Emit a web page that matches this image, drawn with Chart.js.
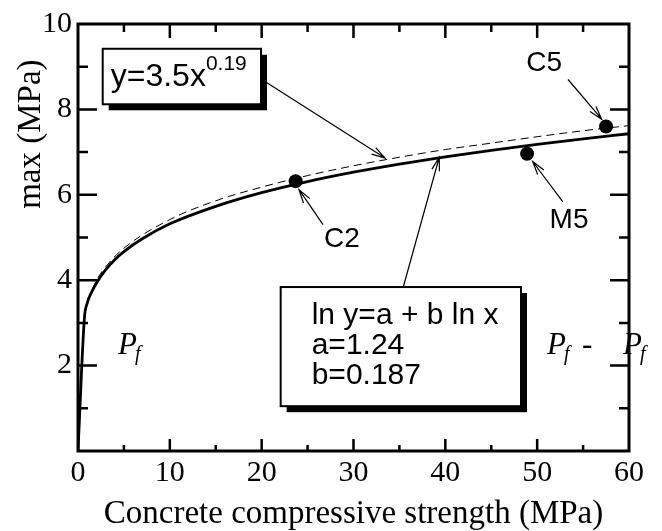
<!DOCTYPE html>
<html>
<head>
<meta charset="utf-8">
<script src="https://cdn.jsdelivr.net/npm/chart.js@4/dist/chart.umd.min.js"></script>
<style>
    html,body{margin:0;padding:0;background:#fff;}
    canvas{display:block;}
</style>
</head>
<body>
<canvas id="strengthChart" width="662" height="531"></canvas>
<script>

/* =====================================
   DATA
===================================== */

// ln y = a + b ln x regression (solid)
const lnFitX = [0, 0.7, 1, 1.5, 2, 3, 4, 5, 7, 10, 15, 20, 25, 30, 35, 40, 45, 50, 55, 60];
const lnFitY = [0, 3.12, 3.46, 3.73, 3.93, 4.24, 4.48, 4.67, 4.97, 5.32, 5.73, 6.05, 6.31, 6.53, 6.72, 6.89, 7.04, 7.18, 7.31, 7.43];

// y = 3.5x^0.19 (dashed)
const powFitX = [1, 2, 3, 5, 10, 15, 20, 25, 30, 35, 40, 45, 50, 55, 60];
const powFitY = [3.5, 3.99, 4.31, 4.75, 5.42, 5.86, 6.18, 6.45, 6.68, 6.88, 7.06, 7.21, 7.36, 7.50, 7.62];

// test specimens
const specimenNames = ["C2", "M5", "C5"];
const specimenX = [23.7, 48.9, 57.5];
const specimenY = [6.32, 6.96, 7.60];

const xTickValues = [0, 10, 20, 30, 40, 50, 60];
const yTickValues = [2, 4, 6, 8, 10];

const SERIF = "'Liberation Serif', 'Times New Roman', serif";
const SANS = "'Liberation Sans', Arial, sans-serif";

/* =====================================
   ANNOTATIONS (axis units)
===================================== */

const powerBox = { x1: 2.69, y1: 9.42, x2: 19.93, y2: 8.12 };
const lnBox = { x1: 22.07, y1: 3.84, x2: 48.24, y2: 1.05 };

const pointers = [
    { from: [20.4, 8.65], to: [33.43, 6.86] },   // power box -> dashed
    { from: [35.42, 3.84], to: [39.34, 6.88] },  // ln box -> solid
    { from: [26.68, 5.30], to: [24.07, 6.12] },  // C2
    { from: [53.36, 8.70], to: [57.03, 7.77] },  // C5
    { from: [52.78, 5.84], to: [49.51, 6.78] }   // M5
];

const nameSpots = {
    C2: [28.75, 4.95],
    C5: [50.75, 9.07],
    M5: [53.47, 5.40]
};

/* ==========================
   HELPERS
========================== */

function drawArrow(c, x1, y1, x2, y2){

    const ang = Math.atan2(y2 - y1, x2 - x1);
    const len = 14, spread = 0.28;

    c.beginPath();
    c.moveTo(x1, y1);
    c.lineTo(x2, y2);
    c.moveTo(x2 - len * Math.cos(ang - spread), y2 - len * Math.sin(ang - spread));
    c.lineTo(x2, y2);
    c.lineTo(x2 - len * Math.cos(ang + spread), y2 - len * Math.sin(ang + spread));
    c.stroke();

}

function shadowBox(c, l, t, r, b){

    c.fillStyle = "#000";
    c.fillRect(l + 6, t + 6, r - l, b - t);
    c.fillStyle = "#fff";
    c.fillRect(l, t, r - l, b - t);
    c.lineWidth = 2;
    c.strokeStyle = "#000";
    c.strokeRect(l, t, r - l, b - t);

}

function drawPf(c, x, y, dash){

    c.font = "italic 31px " + SERIF;
    c.fillText("P", x, y);
    const w = c.measureText("P").width;
    c.font = "italic 20px " + SERIF;
    c.fillText("f", x + w - 2, y + 6);
    if(dash){
        c.font = "31px " + SERIF;
        c.fillText("-", x + w + 16, y);
    }

}

/* ==========================
   FRAME, TICKS, NOTES
========================== */

const framePlugin = {

    id: "frame",

    afterDatasetsDraw(chart){

        const c = chart.ctx;
        const a = chart.chartArea;
        const xs = chart.scales.x;
        const ys = chart.scales.y;
        const px = v => xs.getPixelForValue(v);
        const py = v => ys.getPixelForValue(v);

        c.save();
        c.strokeStyle = "#000";
        c.fillStyle = "#000";

        // axis box
        c.lineWidth = 3;
        c.strokeRect(a.left, a.top, a.right - a.left, a.bottom - a.top);

        // inward ticks
        c.lineWidth = 2.5;
        c.beginPath();
        for(let v = 5; v < 60; v += 5){
            const major = v % 10 === 0;
            const x = px(v);
            c.moveTo(x, a.bottom);
            c.lineTo(x, a.bottom - (major ? 12 : 6));
            c.moveTo(x, a.top);
            c.lineTo(x, a.top + (major ? 14 : 8));
        }
        for(let v = 1; v < 10; v++){
            const major = v % 2 === 0;
            const y = py(v);
            c.moveTo(a.left, y);
            c.lineTo(a.left + (major ? 19 : 10), y);
            c.moveTo(a.right, y);
            c.lineTo(a.right - (major ? 19 : 10), y);
        }
        c.stroke();

        // equation boxes
        shadowBox(c, px(powerBox.x1), py(powerBox.y1), px(powerBox.x2), py(powerBox.y2));
        shadowBox(c, px(lnBox.x1), py(lnBox.y1), px(lnBox.x2), py(lnBox.y2));

        c.fillStyle = "#000";
        c.textAlign = "left";
        c.textBaseline = "alphabetic";

        const bl = px(powerBox.x1), bt = py(powerBox.y1);
        c.font = "32px " + SANS;
        c.fillText("y=3.5x", bl + 8, bt + 37);
        const mainW = c.measureText("y=3.5x").width;
        c.font = "21px " + SANS;
        c.fillText("0.19", bl + 8 + mainW, bt + 21);

        const ll = px(lnBox.x1), lt = py(lnBox.y1);
        c.font = "30px " + SANS;
        c.fillText("ln y=a + b ln x", ll + 31, lt + 37);
        c.fillText("a=1.24", ll + 31, lt + 67);
        c.fillText("b=0.187", ll + 31, lt + 97);

        // pointer arrows
        c.lineWidth = 1.2;
        pointers.forEach(p => {
            drawArrow(c, px(p.from[0]), py(p.from[1]), px(p.to[0]), py(p.to[1]));
        });

        // specimen names
        c.font = "28px " + SANS;
        c.textAlign = "center";
        c.textBaseline = "middle";
        specimenNames.forEach(n => {
            const s = nameSpots[n];
            c.fillText(n, px(s[0]), py(s[1]));
        });

        // failure-mode labels
        c.textAlign = "left";
        c.textBaseline = "alphabetic";
        drawPf(c, px(4.36), py(2.27), false);
        drawPf(c, px(51.07), py(2.27), true);
        drawPf(c, px(59.35), py(2.27), false);

        // y axis title
        c.save();
        c.translate(31, py(7.42));
        c.rotate(-Math.PI / 2);
        c.font = "33px " + SERIF;
        c.textAlign = "center";
        c.textBaseline = "middle";
        c.fillText("max (MPa)", 0, 0);
        c.restore();

        c.restore();

    }

};

/* ==========================
   CHART
========================== */

const canvas = document.getElementById("strengthChart");

new Chart(canvas, {

    type: "scatter",

    data: {

        datasets: [

            {
                label: "ln y = a + b ln x",
                data: lnFitX.map((x, i) => ({ x: x, y: lnFitY[i] })),
                showLine: true,
                borderColor: "#000",
                borderWidth: 2.8,
                pointRadius: 0,
                cubicInterpolationMode: "monotone",
                fill: false
            },

            {
                label: "y = 3.5x^0.19",
                data: powFitX.map((x, i) => ({ x: x, y: powFitY[i] })),
                showLine: true,
                borderColor: "#000",
                borderWidth: 1,
                borderDash: [8, 5],
                pointRadius: 0,
                cubicInterpolationMode: "monotone",
                fill: false
            },

            {
                label: "Specimens",
                data: specimenX.map((x, i) => ({ x: x, y: specimenY[i] })),
                showLine: false,
                pointRadius: 7,
                backgroundColor: "#000",
                borderWidth: 0
            }

        ]

    },

    options: {

        responsive: false,
        animation: false,

        layout: {
            padding: { top: 21, right: 33, left: 0, bottom: 0 }
        },

        plugins: {
            legend: { display: false },
            tooltip: { enabled: false }
        },

        scales: {

            x: {
                type: "linear",
                min: 0,
                max: 60,
                afterBuildTicks: s => { s.ticks = xTickValues.map(v => ({ value: v })); },
                afterFit: s => { s.height = 80; },
                grid: { display: false, drawTicks: false },
                border: { display: false },
                ticks: {
                    color: "#000",
                    padding: 4,
                    maxRotation: 0,
                    font: { family: SERIF, size: 30 }
                },
                title: {
                    display: true,
                    text: "Concrete compressive strength (MPa)",
                    color: "#000",
                    padding: 0,
                    font: { family: SERIF, size: 33, lineHeight: 1 }
                }
            },

            y: {
                type: "linear",
                min: 0,
                max: 10,
                afterBuildTicks: s => { s.ticks = yTickValues.map(v => ({ value: v })); },
                afterFit: s => { s.width = 78; },
                grid: { display: false, drawTicks: false },
                border: { display: false },
                ticks: {
                    color: "#000",
                    padding: 6,
                    font: { family: SERIF, size: 30 }
                }
            }

        }

    },

    plugins: [framePlugin]

});

</script>
</body>
</html>
